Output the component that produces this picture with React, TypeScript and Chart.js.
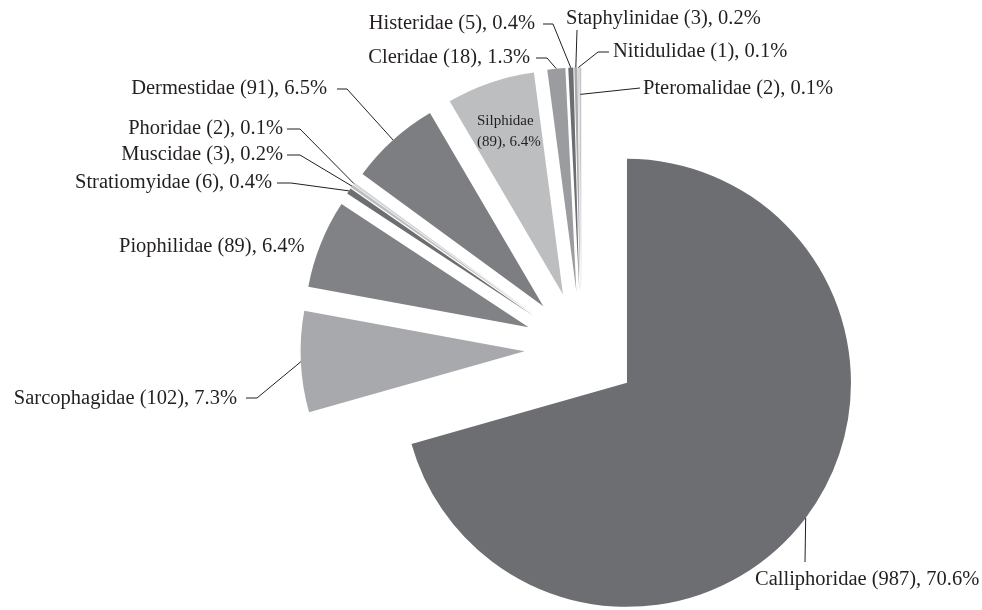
import React, { useEffect, useRef } from 'react';
import { Chart, registerables } from 'chart.js';

Chart.register(...registerables);

// ---- Data ----
const families = [
  'Calliphoridae', 'Sarcophagidae', 'Piophilidae', 'Stratiomyidae', 'Muscidae', 'Phoridae',
  'Dermestidae', 'Silphidae', 'Cleridae', 'Histeridae', 'Staphylinidae', 'Nitidulidae', 'Pteromalidae',
];
const counts = [987, 102, 89, 6, 3, 2, 91, 89, 18, 5, 3, 1, 2];
const sliceColors = [
  '#6d6e71', '#a7a9ac', '#808285', '#6d6e71', '#bcbec0', '#d1d3d4',
  '#7d7e82', '#bcbec0', '#9a9c9f', '#6d6e71', '#a7a9ac', '#d1d3d4', '#c4c6c8',
];

// ---- Layout (label placement only) ----
type LabelLayout = {
  anchorR: number;
  path: [number, number][] | null;
  x: number;
  y: number;
  align: CanvasTextAlign;
  inside?: boolean;
};
const labelLayout: LabelLayout[] = [
  { anchorR: 1, path: [[805, 562]], x: 755, y: 585, align: 'left' },
  { anchorR: 1, path: [[257, 398], [246, 398]], x: 237, y: 404, align: 'right' },
  { anchorR: 1, path: null, x: 119, y: 252, align: 'left' },
  { anchorR: 1, path: [[291, 183], [277, 183]], x: 272, y: 188, align: 'right' },
  { anchorR: 1, path: [[300, 155], [287, 155]], x: 283, y: 160, align: 'right' },
  { anchorR: 1, path: [[300, 129], [287, 129]], x: 283, y: 134, align: 'right' },
  { anchorR: 1, path: [[347, 89], [337, 89]], x: 327, y: 94, align: 'right' },
  { anchorR: 1, path: null, x: 477, y: 125, align: 'left', inside: true },
  { anchorR: 1, path: [[547, 58], [536, 58]], x: 530, y: 63, align: 'right' },
  { anchorR: 1, path: [[553, 24], [543, 24]], x: 535, y: 29, align: 'right' },
  { anchorR: 1, path: [[577, 30]], x: 566, y: 24, align: 'left' },
  { anchorR: 1, path: [[598, 52], [609, 52]], x: 613, y: 57, align: 'left' },
  { anchorR: 0.88, path: [[640, 88]], x: 643, y: 94, align: 'left' },
];

const EXPLODE = 57;
const TEXT_COLOR = '#231f20';
const FONT_FAMILY = '"Liberation Serif", "DejaVu Serif", serif';

const total = counts.reduce((a, b) => a + b, 0);
const pct = (v: number) => ((v / total) * 100).toFixed(1);

const explodePlugin = {
  id: 'explodePlugin',
  beforeDatasetDraw(chart: any, args: any) {
    const ctx = chart.ctx;
    args.meta.data.forEach((arc: any) => {
      const { startAngle, endAngle } = arc.getProps(['startAngle', 'endAngle'], true);
      const mid = (startAngle + endAngle) / 2;
      ctx.save();
      ctx.translate(Math.cos(mid) * EXPLODE, Math.sin(mid) * EXPLODE);
      arc.draw(ctx);
      ctx.restore();
    });
    return false;
  },
};

const labelPlugin = {
  id: 'labelPlugin',
  afterDraw(chart: any) {
    const ctx = chart.ctx;
    const meta = chart.getDatasetMeta(0);
    ctx.save();
    meta.data.forEach((arc: any, i: number) => {
      const lay = labelLayout[i];
      if (!lay) return;
      const { x, y, startAngle, endAngle, outerRadius } = arc.getProps(
        ['x', 'y', 'startAngle', 'endAngle', 'outerRadius'], true);
      const mid = (startAngle + endAngle) / 2;
      const vx = x + Math.cos(mid) * EXPLODE;
      const vy = y + Math.sin(mid) * EXPLODE;
      if (lay.inside) {
        ctx.fillStyle = TEXT_COLOR;
        ctx.font = `15px ${FONT_FAMILY}`;
        ctx.textAlign = 'left';
        ctx.textBaseline = 'alphabetic';
        ctx.fillText(families[i], lay.x, lay.y);
        ctx.fillText(`(${counts[i]}), ${pct(counts[i])}%`, lay.x, lay.y + 21);
        return;
      }
      if (lay.path) {
        const ax = vx + Math.cos(mid) * outerRadius * lay.anchorR;
        const ay = vy + Math.sin(mid) * outerRadius * lay.anchorR;
        ctx.strokeStyle = TEXT_COLOR;
        ctx.lineWidth = 1;
        ctx.beginPath();
        ctx.moveTo(ax, ay);
        lay.path.forEach(([px, py]) => ctx.lineTo(px, py));
        ctx.stroke();
      }
      ctx.fillStyle = TEXT_COLOR;
      ctx.font = `20.5px ${FONT_FAMILY}`;
      ctx.textAlign = lay.align;
      ctx.textBaseline = 'alphabetic';
      ctx.fillText(`${families[i]} (${counts[i]}), ${pct(counts[i])}%`, lay.x, lay.y);
    });
    ctx.restore();
  },
};

export default function App() {
  const canvasRef = useRef<HTMLCanvasElement | null>(null);

  useEffect(() => {
    const canvas = canvasRef.current;
    if (!canvas) return;
    const chart = new Chart(canvas, {
      type: 'pie',
      data: {
        labels: families,
        datasets: [
          {
            data: counts,
            backgroundColor: sliceColors,
            borderWidth: 0,
            offset: 0,
          },
        ],
      },
      options: {
        animation: false,
        responsive: true,
        maintainAspectRatio: false,
        radius: 224,
        layout: { padding: { left: 181, top: 87, right: 0, bottom: 0 } },
        plugins: {
          legend: { display: false },
          tooltip: { enabled: false },
        },
        events: [],
      } as any,
      plugins: [explodePlugin, labelPlugin],
    });
    return () => chart.destroy();
  }, []);

  return (
    <div style={{ position: 'absolute', left: 0, top: 0, width: 982, height: 610, background: '#fff' }}>
      <canvas ref={canvasRef} />
    </div>
  );
}
